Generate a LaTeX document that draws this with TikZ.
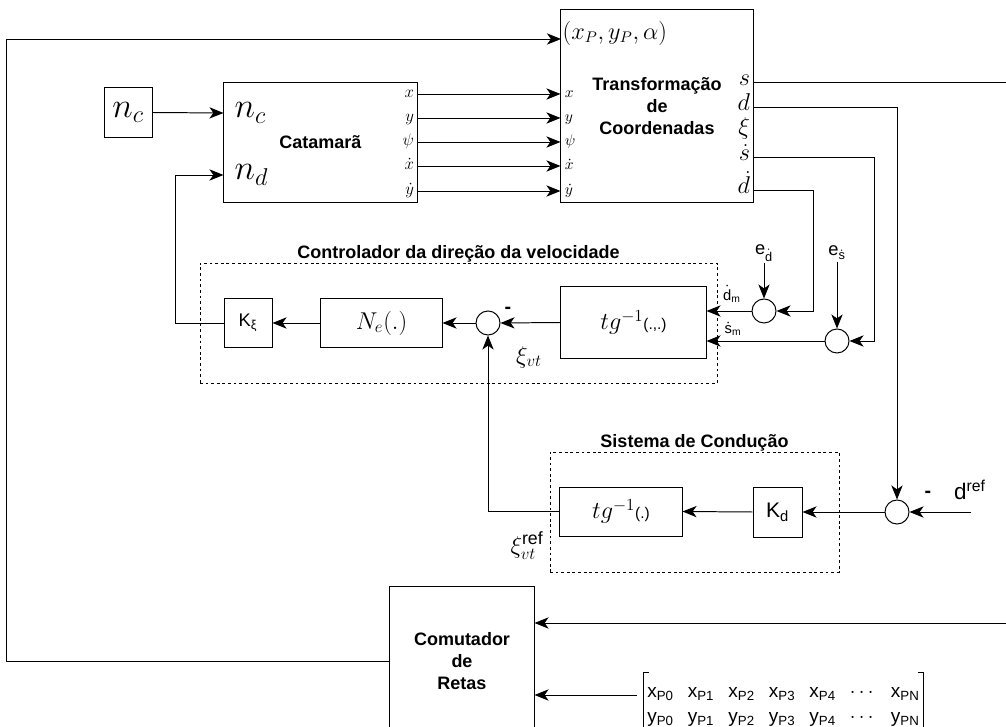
\documentclass[tikz,border=0pt]{standalone}
\usepackage{amsmath}
\usepackage[no-math]{fontspec}
\setsansfont{Liberation Sans}
\usetikzlibrary{arrows.meta,positioning,calc}
\newcommand{\pd}[1]{$\dot{\text{\sffamily #1}}$}
\tikzset{
  bloc/.style={draw,line width=0.7pt,align=center,inner sep=2pt},
  somme/.style={draw,circle,line width=0.7pt,minimum size=0.6cm,inner sep=0pt},
  grp/.style={draw,dash pattern=on 2pt off 2pt,line width=0.6pt},
  fl/.style={-{Stealth[length=10pt,width=8pt,inset=2.8pt]},line width=0.7pt},
  ln/.style={line width=0.7pt},
  titre/.style={font=\sffamily\bfseries\fontsize{12.8}{15.5}\selectfont,align=center},
  txt/.style={font=\sffamily\fontsize{13}{15}\selectfont},
  petit/.style={font=\sffamily\fontsize{10.5}{12}\selectfont,inner sep=1pt},
  mth/.style={font=\fontsize{17}{19}\selectfont},
  grand/.style={font=\fontsize{24}{26}\selectfont},
  port/.style={inner sep=0.5pt,text height=1.5ex,text depth=.3ex},
  moins/.style={font=\sffamily\bfseries\fontsize{14}{16}\selectfont,inner sep=0pt},
}

\begin{document}
\begin{tikzpicture}[x=0.025cm,y=-0.025cm]
  \useasboundingbox (0,0) rectangle (1006,727);
  \clip (0,0) rectangle (1006,727);
  % blocs du haut
  \node[bloc,grand,minimum width=1.2cm,minimum height=1.225cm] (nc) at (128,112.5) {$n_c$};
  \node[bloc,titre,minimum width=4.825cm,minimum height=2.975cm] (cat) at (320.5,142.5) {Catamarã};
  \node[bloc,titre,minimum width=4.8cm,minimum height=4.8cm] (tc) at (657,106) {Transformação\\de\\Coordenadas};
  \node[grand,anchor=west,inner sep=1pt] (ncin) at (233,113) {$n_c$};
  \node[grand,anchor=west,inner sep=1pt] (ndin) at (233,175) {$n_d$};
  \node[font=\fontsize{16}{18}\selectfont,anchor=west,inner sep=1pt] (xpin) at (561,33) {$(x_P,y_P,\alpha)$};
  \coordinate (pin) at (561,39);
  \draw[fl] (nc.east) -- (cat.west |- ncin);
  \foreach \nom/\sig/\yy in {ox/x/94, oy/y/118, opsi/\psi/142, oxd/\dot x/166, oyd/\dot y/191}{
    \node[port,font=\fontsize{12.5}{14}\selectfont,anchor=east] (c\nom) at (415,\yy) {$\sig$};
    \node[port,font=\fontsize{10.5}{12}\selectfont,anchor=west] (t\nom) at (564,\yy) {$\sig$};
    \draw[fl] (cat.east |- c\nom) -- (tc.west |- t\nom);
  }
  % sorties de la transformation
  \node[port,font=\fontsize{16}{18}\selectfont,anchor=east] (os) at (751,82) {$s$};
  \node[port,font=\fontsize{16}{18}\selectfont,anchor=east] (od) at (751,107) {$d$};
  \node[port,font=\fontsize{16}{18}\selectfont,anchor=east] (oxi) at (751,131) {$\xi$};
  \node[port,font=\fontsize{16}{18}\selectfont,anchor=east] (osd) at (751,157) {$\dot s$};
  \node[port,font=\fontsize{16}{18}\selectfont,anchor=east] (odd) at (751,190) {$\dot d$};
  \coordinate (sfin) at (1006,82);
  \draw[ln] (tc.east |- os) -- (sfin);

  % controlador
  \node[grp,minimum width=12.925cm,minimum height=3cm] (gctl) at (458.5,323) {};
  \node[titre,above=-3pt of gctl] {Controlador da direção da velocidade};
  \node[bloc,mth,minimum width=3.625cm,minimum height=1.775cm] (atg) at (633.5,322.5)
    {$tg^{-1}$\textsf{\fontsize{11}{13}\selectfont(.,.)}};
  \node[somme] (sxi) at (488,323) {};
  \node[bloc,mth,minimum width=3.025cm,minimum height=1.2cm] (ne) at (381.5,323) {$N_e(.)$};
  \node[bloc,txt,minimum width=1.2cm,minimum height=1.2cm] (kxi) at (248,323) {K\textsubscript{ξ}};
  \node[somme] (sdd) at (764,311) {};
  \node[somme] (ssd) at (837,341) {};
  \node[txt,inner sep=1pt] (edd) at (764,253) {e\textsubscript{\pd{d}}};
  \node[txt,inner sep=1pt] (esd) at (837,253) {e\textsubscript{\pd{s}}};
  \node[petit] (ldm) at (732,294) {\pd{d}\textsubscript{m}};
  \node[petit] (lsm) at (733,329) {\pd{s}\textsubscript{m}};
  \node[moins] (m1) at (508,310) {-};
  \node[font=\fontsize{18}{20}\selectfont] (lxi) at (529,357) {$\xi_{vt}$};
  \draw[fl] (tc.east |- odd) -- ++(60,0) |- (sdd.east);
  \draw[fl] (tc.east |- osd) -- ++(121,0) |- (ssd.east);
  \draw[fl] (edd.south) -- (sdd.north);
  \draw[fl] (esd.south) -- (ssd.north);
  \draw[fl] (sdd.west) -- (atg.east |- sdd);
  \draw[fl] (ssd.west) -- (atg.east |- ssd);
  \draw[fl] (atg.west) -- (sxi.east);
  \draw[fl] (sxi.west) -- (ne.east);
  \draw[fl] (ne.west) -- (kxi.east);
  \draw[fl] (kxi.west) -- ++(-48,0) |- (cat.west |- ndin);

  % sistema de conducao
  \node[grp,minimum width=7.225cm,minimum height=3cm] (gcond) at (694.5,512) {};
  \node[titre,above=-3pt of gcond] {Sistema de Condução};
  \node[bloc,mth,minimum width=3.05cm,minimum height=1.225cm] (atd) at (621,511.5)
    {$tg^{-1}$\textsf{\fontsize{11}{13}\selectfont(.)}};
  \node[bloc,minimum width=1.225cm,minimum height=1.25cm,font=\sffamily\fontsize{15}{17}\selectfont] (kd) at (777.5,512) {K\textsubscript{d}};
  \node[somme] (sd) at (897,512) {};
  \coordinate (dr) at (971,512);
  \node[font=\sffamily\fontsize{16}{18}\selectfont] (ldr) at (970,490) {d\textsuperscript{ref}};
  \node[moins] (m2) at (928,494) {-};
  \node[font=\fontsize{18}{20}\selectfont] (lxir) at (527,546) {$\xi_{vt}^{\text{\sffamily ref}}$};
  \draw[fl] (tc.east |- od) -| (sd.north);
  \draw[fl] (dr) -- (sd.east);
  \draw[fl] (sd.west) -- (kd.east);
  \draw[fl] (kd.west) -- (atd.east);
  \draw[fl] (atd.west) -| (sxi.south);

  % comutador de retas
  \node[bloc,titre,minimum width=3.6cm,minimum height=3.7cm] (com) at (462,661) {Comutador\\de\\Retas};
  \coordinate (cin) at (1006,623);
  \draw[fl] (cin) -- (com.east |- cin);
  \draw[fl] (com.west) -- ++(-383,0) |- (pin);
  \node[inner xsep=2.5pt,inner ysep=5.5pt,font=\sffamily\fontsize{13.5}{17.8}\selectfont] (pts) at (783.5,705) {%
    \setlength{\tabcolsep}{5pt}%
    \begin{tabular}{@{}ccccccc@{}}
      x\textsubscript{P0} & x\textsubscript{P1} & x\textsubscript{P2} & x\textsubscript{P3} & x\textsubscript{P4} & $\cdots$ & x\textsubscript{PN}\\
      y\textsubscript{P0} & y\textsubscript{P1} & y\textsubscript{P2} & y\textsubscript{P3} & y\textsubscript{P4} & $\cdots$ & y\textsubscript{PN}
    \end{tabular}};
  \draw[line width=0.6pt] ([xshift=4pt]pts.north west) -- (pts.north west) -- (pts.south west);
  \draw[line width=0.6pt] ([xshift=-4pt]pts.north east) -- (pts.north east) -- (pts.south east);
  \draw[fl] ([shift={(-7,-10)}]pts.west) -- (com.east |- 0,695);
\end{tikzpicture}
\end{document}
